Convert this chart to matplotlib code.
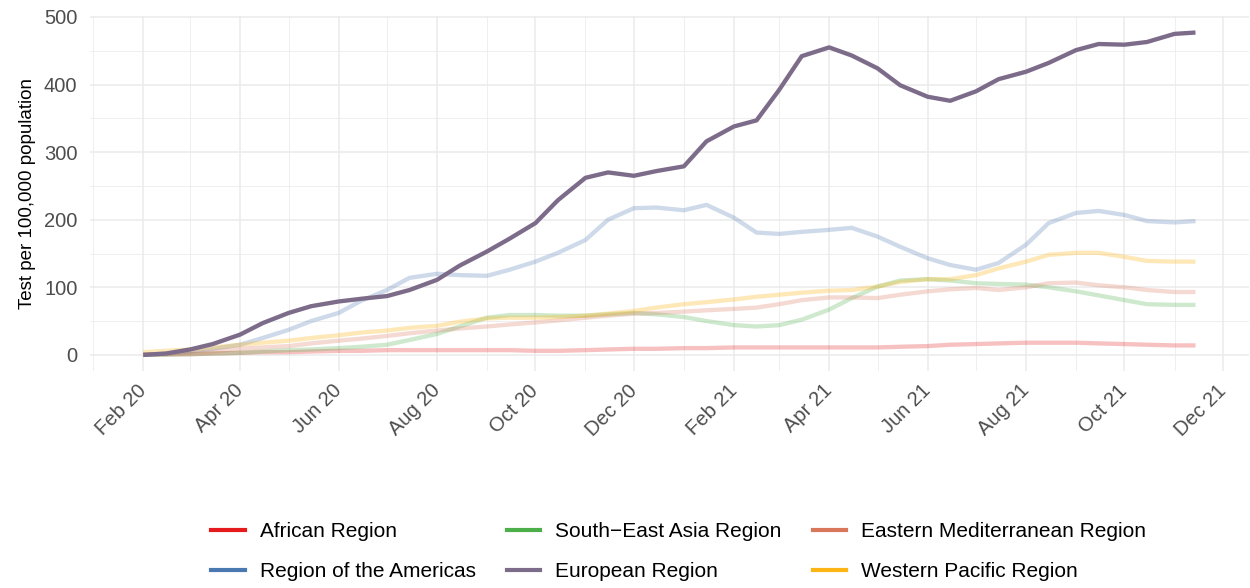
import matplotlib
matplotlib.use("Agg")
import matplotlib.pyplot as plt
import matplotlib.dates as mdates
from matplotlib.lines import Line2D
import pandas as pd

plt.rcParams['font.family'] = ['Liberation Sans', 'DejaVu Sans']

# dates: 1st and 15th of each month, last point mid-November 2021
dates = list(pd.date_range('2020-02-01', '2021-11-01', freq='SMS')) + [pd.Timestamp('2021-11-14')]

african = [0, 1, 1, 2, 3, 4, 4, 5, 6, 6, 7, 7, 7, 7, 7, 7, 6, 6, 7, 8, 9, 9,
           10, 10, 11, 11, 11, 11, 11, 11, 11, 12, 13, 15, 16, 17, 18, 18, 18, 17, 16, 15,
           14, 14]
americas = [0, 2, 5, 9, 15, 25, 37, 50, 62, 80, 96, 114, 120, 118, 117, 126, 138, 151, 170, 200, 217, 218,
            214, 222, 203, 181, 179, 182, 185, 188, 175, 160, 143, 133, 126, 136, 163, 195, 210, 213, 207, 198,
            196, 198]
se_asia = [0, 0, 1, 2, 3, 5, 7, 8, 10, 12, 15, 22, 31, 42, 55, 59, 59, 58, 58, 60, 62, 60,
           56, 50, 44, 42, 44, 52, 67, 84, 101, 110, 112, 110, 106, 105, 104, 100, 94, 88, 81, 75,
           74, 74]
east_med = [1, 1, 3, 5, 9, 11, 13, 17, 21, 24, 28, 32, 36, 39, 42, 45, 48, 51, 55, 58, 61, 62,
            64, 66, 68, 70, 75, 81, 85, 85, 84, 89, 94, 97, 99, 96, 100, 106, 107, 103, 100, 96,
            93, 93]
european = [0, 2, 8, 16, 30, 47, 62, 72, 79, 83, 87, 96, 111, 132, 153, 172, 195, 229, 262, 270, 265, 272,
            279, 316, 338, 347, 392, 442, 455, 443, 424, 399, 382, 376, 390, 408, 419, 432, 451, 460, 459, 463,
            475, 477]
w_pacific = [4, 6, 8, 11, 15, 18, 21, 25, 29, 33, 36, 40, 43, 49, 54, 55, 55, 56, 58, 61, 65, 70,
             75, 78, 82, 86, 89, 92, 95, 96, 101, 108, 112, 112, 118, 128, 138, 148, 151, 151, 145, 139,
             138, 138]

labels = ['African Region', 'Region of the Americas', 'South\u2212East Asia Region',
          'European Region', 'Eastern Mediterranean Region', 'Western Pacific Region']
series = [african, americas, se_asia, european, east_med, w_pacific]
colors = ['#E41A1C', '#4A78B0', '#4DAF4A', '#7D6B8A', '#D9775A', '#FDB515']
alphas = [0.27, 0.27, 0.27, 1.0, 0.27, 0.3]

fig = plt.figure(figsize=(12.5, 5.88), dpi=100)
ax = fig.add_axes([0.072, 0.369, 0.927, 0.6043])

# faded lines first, european on top
order = [0, 1, 2, 4, 5, 3]
for i in order:
    ax.plot(dates, series[i], color=colors[i], alpha=alphas[i], lw=3.1,
            solid_capstyle='butt', solid_joinstyle='round', zorder=3)

ax.set_xlim(pd.Timestamp('2019-12-30'), pd.Timestamp('2021-12-17'))
ax.set_ylim(-23.9, 501.9)
ax.set_yticks([0, 100, 200, 300, 400, 500])
ax.set_yticks([50, 150, 250, 350, 450], minor=True)
ax.xaxis.set_major_locator(mdates.MonthLocator(bymonth=[2, 4, 6, 8, 10, 12]))
ax.xaxis.set_minor_locator(mdates.MonthLocator(bymonth=[1, 3, 5, 7, 9, 11]))
ax.xaxis.set_major_formatter(mdates.DateFormatter('%b %y'))

ax.grid(which='major', color='#EBEBEB', lw=1.1)
ax.grid(which='minor', color='#EBEBEB', lw=0.55)
ax.set_axisbelow(True)
for s in ax.spines.values():
    s.set_visible(False)
ax.tick_params(which='both', length=0)
ax.tick_params(axis='y', labelsize=14.5, labelcolor='#4D4D4D', pad=9)
ax.tick_params(axis='x', labelsize=14.5, labelcolor='#4D4D4D', pad=12)
for lab in ax.get_xticklabels():
    lab.set_rotation(45)
    lab.set_ha('right')
    lab.set_va('center')
    lab.set_rotation_mode('anchor')

ax.set_ylabel('Test per 100,000 population', fontsize=13.5, color='black', labelpad=6)

handles = [Line2D([0], [0], color=c, lw=3) for c in colors]
fig.legend(handles, labels, loc='lower center', bbox_to_anchor=(0.543, -0.02), ncol=3,
           frameon=False, fontsize=15, handlelength=1.6, handletextpad=0.72,
           columnspacing=1.5, labelspacing=1.0)

fig.savefig('out.png', dpi=100)
